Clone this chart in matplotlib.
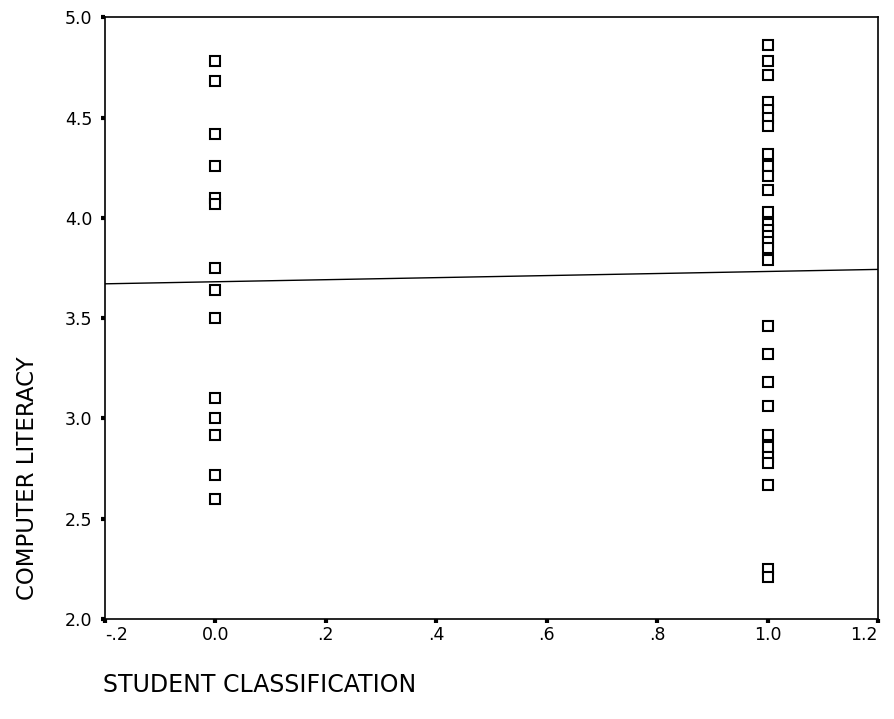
import numpy as np
import matplotlib
matplotlib.use("Agg")
import matplotlib.pyplot as plt

plt.rcParams['font.family'] = ['DejaVu Sans']

# Datos
grupo_0 = [4.78, 4.68, 4.42, 4.26, 4.10, 4.07, 3.75, 3.64, 3.50,
           3.10, 3.00, 2.92, 2.72, 2.60]
grupo_1 = [4.86, 4.78, 4.71, 4.58, 4.54, 4.50, 4.46, 4.32, 4.26,
           4.21, 4.14, 4.03, 3.97, 3.94, 3.91, 3.88, 3.85, 3.79,
           3.46, 3.32, 3.18, 3.06, 2.92, 2.86, 2.81, 2.78, 2.67,
           2.25, 2.21]
x_ticks = [-0.2, 0.0, 0.2, 0.4, 0.6, 0.8, 1.0, 1.2]
x_labels = ['-.2', '0.0', '.2', '.4', '.6', '.8', '1.0', '1.2']
y_ticks = [2.0, 2.5, 3.0, 3.5, 4.0, 4.5, 5.0]

x = np.array([0] * len(grupo_0) + [1] * len(grupo_1), dtype=float)
y = np.array(grupo_0 + grupo_1)

fig = plt.figure(figsize=(8.95, 7.19), dpi=100)
ax = fig.add_axes([0.117, 0.139, 0.864, 0.837])

ax.plot(x, y, 's', ms=6.5, mfc='white', mec='black', mew=1.5, ls='none')

# Recta de regresion
m, b = np.polyfit(x, y, 1)
xs = np.array([-0.2, 1.2])
ax.plot(xs, m * xs + b, color='black', lw=1)

ax.set_xlim(-0.2, 1.2)
ax.set_ylim(2.0, 5.0)
ax.set_xticks(x_ticks)
ax.set_xticklabels(x_labels)
ax.set_yticks(y_ticks)
ax.set_yticklabels([f"{v:.1f}" for v in y_ticks])
ax.tick_params(axis='y', direction='out', length=3, width=3, labelsize=12.5, pad=6)
ax.tick_params(axis='x', direction='out', length=3, width=3, labelsize=12.5, pad=2)
xl = ax.get_xticklabels()
xl[0].set_ha('left')
xl[-1].set_ha('right')
for s in ax.spines.values():
    s.set_linewidth(1.2)

fig.text(0.031, 0.335, "COMPUTER LITERACY", rotation=90, fontsize=16.5,
         ha='center', va='center')
fig.text(0.115, 0.047, "STUDENT CLASSIFICATION", fontsize=17,
         ha='left', va='center')

fig.savefig("out.png", dpi=100)
